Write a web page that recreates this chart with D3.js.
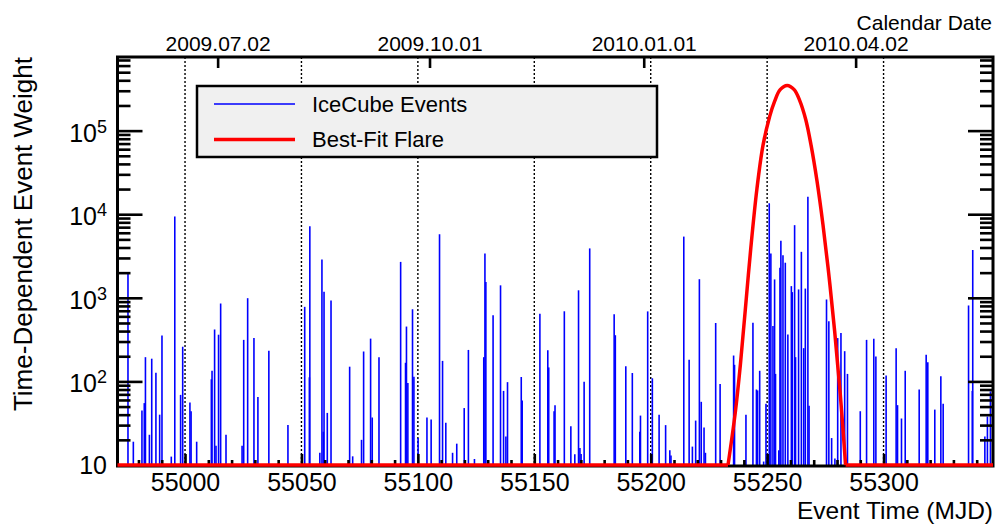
<!DOCTYPE html>
<html>
<head>
<meta charset="utf-8">
<script src="https://cdn.jsdelivr.net/npm/d3@7/dist/d3.min.js"></script>
<style>
  body { margin: 0; background: #fff; }
  svg { display: block; font-family: "Liberation Sans", Arial, Helvetica, sans-serif; }
</style>
</head>
<body>
<svg id="chart" width="996" height="524"></svg>
<script>
// IceCube events: [time (MJD), time-dependent weight]
const events = [
  [54975.5, 2000], [54977.8, 19], [54981.5, 45], [54982.5, 55], [54983.0, 195],
  [54984.7, 23], [54985.7, 187], [54987.5, 127], [54989.1, 40], [54990.1, 355],
  [54994.1, 12.6], [54995.6, 9400], [54998.1, 69], [54999.0, 260], [55002.1, 56],
  [55002.6, 44], [55005.0, 19], [55011.3, 106], [55011.6, 134], [55012.7, 418],
  [55013.3, 17], [55014.4, 362], [55015.3, 855], [55017.6, 23], [55024.5, 17],
  [55025.2, 314], [55026.9, 990], [55029.6, 330], [55031.3, 65], [55036.0, 232],
  [55044.2, 30], [55051.4, 780], [55053.4, 112], [55053.6, 7200], [55057.9, 14],
  [55058.8, 2880], [55059.4, 25], [55059.7, 1180], [55061.1, 42], [55062.7, 930],
  [55070.7, 150], [55072.0, 12.7], [55075.8, 20], [55076.7, 228], [55079.7, 325],
  [55080.4, 37], [55083.3, 195], [55092.6, 2690], [55094.7, 167], [55095.1, 453],
  [55095.7, 96], [55097.7, 730], [55098.3, 114], [55100.1, 21], [55103.9, 37],
  [55105.7, 35], [55109.3, 5760], [55110.6, 176], [55112.0, 32], [55114.9, 14],
  [55116.7, 18], [55119.9, 48], [55121.7, 238], [55124.3, 11.8], [55128.3, 195],
  [55128.8, 3400], [55129.2, 1550], [55132.3, 620], [55135.5, 1410], [55136.8, 77],
  [55137.8, 22], [55138.5, 98], [55144.4, 113], [55144.8, 59], [55152.4, 645],
  [55155.8, 236], [55156.2, 147], [55158.5, 44], [55158.9, 52],
  [55162.9, 690], [55165.7, 29], [55167.4, 13.4], [55169.0, 1230], [55169.6, 16],
  [55170.1, 13.5], [55171.4, 99], [55173.8, 3900], [55184.3, 635], [55184.8, 357],
  [55189.3, 152], [55192.1, 126], [55195.3, 25], [55195.6, 39], [55198.7, 688],
  [55200.7, 109], [55203.6, 40], [55206.4, 30], [55208.2, 15], [55208.7, 13],
  [55214.2, 5400], [55216.5, 181], [55217.9, 16.6], [55219.3, 34], [55220.9, 1670],
  [55221.7, 57], [55222.9, 28], [55223.5, 14], [55227.9, 500], [55229.8, 93],
  [55235.6, 204], [55236.0, 158], [55240.9, 40], [55243.9, 503], [55245.4, 80],
  [55245.9, 78], [55246.8, 134], [55248.5, 11], [55249.5, 54], [55250.9, 13500],
  [55251.6, 3400], [55252.5, 460], [55253.2, 1660], [55253.6, 123], [55255.0, 15],
  [55255.5, 2290], [55255.9, 4800], [55256.8, 3240], [55257.8, 2630], [55258.9, 363],
  [55260.4, 1380], [55260.8, 1170], [55261.8, 7400], [55262.2, 195], [55263.5, 1260],
  [55264.7, 3550], [55265.7, 250], [55266.4, 1290], [55267.5, 16200], [55268.0, 51],
  [55275.5, 955], [55276.5, 525], [55277.7, 21], [55279.1, 12], [55280.3, 330],
  [55281.7, 380], [55283.3, 230], [55284.5, 123], [55290.0, 44], [55292.7, 314],
  [55295.8, 324], [55296.7, 198], [55301.1, 118], [55305.4, 250], [55306.0, 52],
  [55307.7, 36], [55309.3, 134], [55315.3, 80], [55318.3, 208], [55319.0, 170],
  [55322.0, 46], [55324.6, 115], [55325.6, 54], [55336.5, 810], [55338.1, 77],
  [55338.3, 3730], [55343.5, 22], [55344.6, 38], [55345.9, 76]
];

// best-fit flare (at the plot floor of 10 outside this range)
const flareMjd = [55233.2, 55236.3, 55238.5, 55240.6, 55243.0, 55245.6, 55248.2, 55251.1,
  55253.2, 55255.6, 55258.6, 55261.6, 55264.0, 55266.6, 55268.9, 55271.4, 55274.0,
  55276.6, 55279.0, 55281.4, 55283.7];
const flareWeight = [10, 42, 158, 708, 3980, 19950, 66100, 148000,
  224000, 309000, 347000, 309000, 229000, 135000, 66100, 25100, 7400,
  1780, 398, 71, 10];
const plotFloor = 10;

const mjdTicks = [55000, 55050, 55100, 55150, 55200, 55250, 55300];
const mjdMinor = [54980, 54990, 55010, 55020, 55030, 55040, 55060, 55070, 55080, 55090,
  55110, 55120, 55130, 55140, 55160, 55170, 55180, 55190, 55210, 55220, 55230, 55240,
  55260, 55270, 55280, 55290, 55310, 55320, 55330, 55340];
const dateTicks  = [55014, 55105, 55197, 55288];
const dateLabels = ["2009.07.02", "2009.10.01", "2010.01.01", "2010.04.02"];
const yTicks = [10, 100, 1000, 10000, 100000];

const legendItems = [
  {label: "IceCube Events", color: "#0000ff", width: 1.5},
  {label: "Best-Fit Flare", color: "#ff0000", width: 3.5}
];

const padL = 117.5, padR = 993, padT = 57, padB = 465;

let svg = d3.select("#chart");
let x = d3.scaleLinear().domain([54971, 55347]).range([padL, padR]);
let y = d3.scaleLog().domain([plotFloor, 7.6e5]).range([padB, padT]);

svg.append("rect").attr("width", 996).attr("height", 524).attr("fill", "#fff");

// dotted lines at every 50 MJD
svg.append("g").selectAll("line").data(mjdTicks).join("line")
  .attr("x1", d => x(d)).attr("x2", d => x(d))
  .attr("y1", padT).attr("y2", padB)
  .attr("stroke", "#000").attr("stroke-width", 1.4)
  .attr("stroke-dasharray", "2,2");

// event spikes
svg.append("g").selectAll("line").data(events).join("line")
  .attr("x1", d => x(d[0])).attr("x2", d => x(d[0]))
  .attr("y1", y(plotFloor)).attr("y2", d => y(d[1]))
  .attr("stroke", "#0000ff").attr("stroke-width", 1.6);

// frame
svg.append("rect")
  .attr("x", padL).attr("y", padT)
  .attr("width", padR - padL).attr("height", padB + 1 - padT)
  .attr("fill", "none").attr("stroke", "#000").attr("stroke-width", 3);

function styleAxis(g, w) {
  g.select(".domain").remove();
  g.selectAll(".tick line").attr("stroke", "#000").attr("stroke-width", w);
  g.selectAll("text").attr("fill", "#000").attr("font-family", null);
}

// bottom axis (MJD)
svg.append("g").attr("transform", `translate(0,${padB})`)
  .call(d3.axisBottom(x).tickValues(mjdMinor).tickSize(-5).tickFormat(""))
  .call(g => styleAxis(g, 2.6));
svg.append("g").attr("transform", `translate(0,${padB})`)
  .call(d3.axisBottom(x).tickValues(mjdTicks).tickSize(-11).tickPadding(8).tickFormat(d3.format("d")))
  .call(g => styleAxis(g, 2.6))
  .selectAll("text").attr("font-size", 25);

// top axis (calendar date)
svg.append("g").attr("transform", `translate(0,${padT})`)
  .call(d3.axisTop(x).tickValues(dateTicks).tickSize(-11).tickPadding(6)
    .tickFormat((d, i) => dateLabels[i]))
  .call(g => styleAxis(g, 2.6))
  .selectAll("text").attr("font-size", 21);

// y axes, left and right
let yMinor = y.ticks().filter(v => yTicks.indexOf(v) < 0);
svg.append("g").attr("transform", `translate(${padL},0)`)
  .call(d3.axisLeft(y).tickValues(yMinor).tickSize(-13).tickFormat(""))
  .call(g => styleAxis(g, 2.6));
svg.append("g").attr("transform", `translate(${padL},0)`)
  .call(d3.axisLeft(y).tickValues(yTicks).tickSize(-25).tickFormat(""))
  .call(g => styleAxis(g, 2.6));
svg.append("g").attr("transform", `translate(${padR},0)`)
  .call(d3.axisRight(y).tickValues(yMinor).tickSize(-13).tickFormat(""))
  .call(g => styleAxis(g, 2.6));
svg.append("g").attr("transform", `translate(${padR},0)`)
  .call(d3.axisRight(y).tickValues(yTicks).tickSize(-25).tickFormat(""))
  .call(g => styleAxis(g, 2.6));

// y tick labels as 10^n
let ylab = svg.append("g").selectAll("text").data(yTicks).join("text")
  .attr("x", 107).attr("text-anchor", "end").attr("font-size", 25)
  .attr("y", d => d === 10 ? y(d) + 9 : y(d) + 11);
ylab.append("tspan").text("10");
ylab.filter(d => d !== 10).append("tspan")
  .attr("dy", -9).attr("font-size", 18)
  .text(d => Math.round(Math.log10(d)));

// best-fit flare: floor segments + smooth bump
let n = flareMjd.length;
let floorLine = d3.line().x(d => x(d)).y(() => y(plotFloor));
svg.append("path").attr("d", floorLine([x.domain()[0], flareMjd[0]]))
  .attr("stroke", "#ff0000").attr("stroke-width", 3.5);
svg.append("path").attr("d", floorLine([flareMjd[n - 1], x.domain()[1]]))
  .attr("stroke", "#ff0000").attr("stroke-width", 3.5);
let line = d3.line().x((d, i) => x(flareMjd[i])).y(d => y(d)).curve(d3.curveCatmullRom.alpha(0.5));
svg.append("path").attr("d", line(flareWeight))
  .attr("fill", "none").attr("stroke", "#ff0000").attr("stroke-width", 3.5)
  .attr("stroke-linejoin", "round");

// titles
svg.append("text").attr("x", 993).attr("y", 519).attr("text-anchor", "end")
  .attr("font-size", 24.5).text("Event Time (MJD)");
svg.append("text").attr("x", 992).attr("y", 30).attr("text-anchor", "end")
  .attr("font-size", 21).text("Calendar Date");
svg.append("text").attr("transform", `translate(32,${padT}) rotate(-90)`)
  .attr("text-anchor", "end").attr("font-size", 26).text("Time-Dependent Event Weight");

// legend
let legend = svg.append("g");
legend.append("rect").attr("x", 197).attr("y", 86).attr("width", 460).attr("height", 71)
  .attr("fill", "#f0f0f0").attr("stroke", "#000").attr("stroke-width", 2.5);
legendItems.forEach((d, i) => {
  let ly = 104 + i * 35.5;
  legend.append("line").attr("x1", 214).attr("x2", 295).attr("y1", ly).attr("y2", ly)
    .attr("stroke", d.color).attr("stroke-width", d.width);
  legend.append("text").attr("x", 312).attr("y", ly + 7.5).attr("font-size", 22).text(d.label);
});
</script>
</body>
</html>
